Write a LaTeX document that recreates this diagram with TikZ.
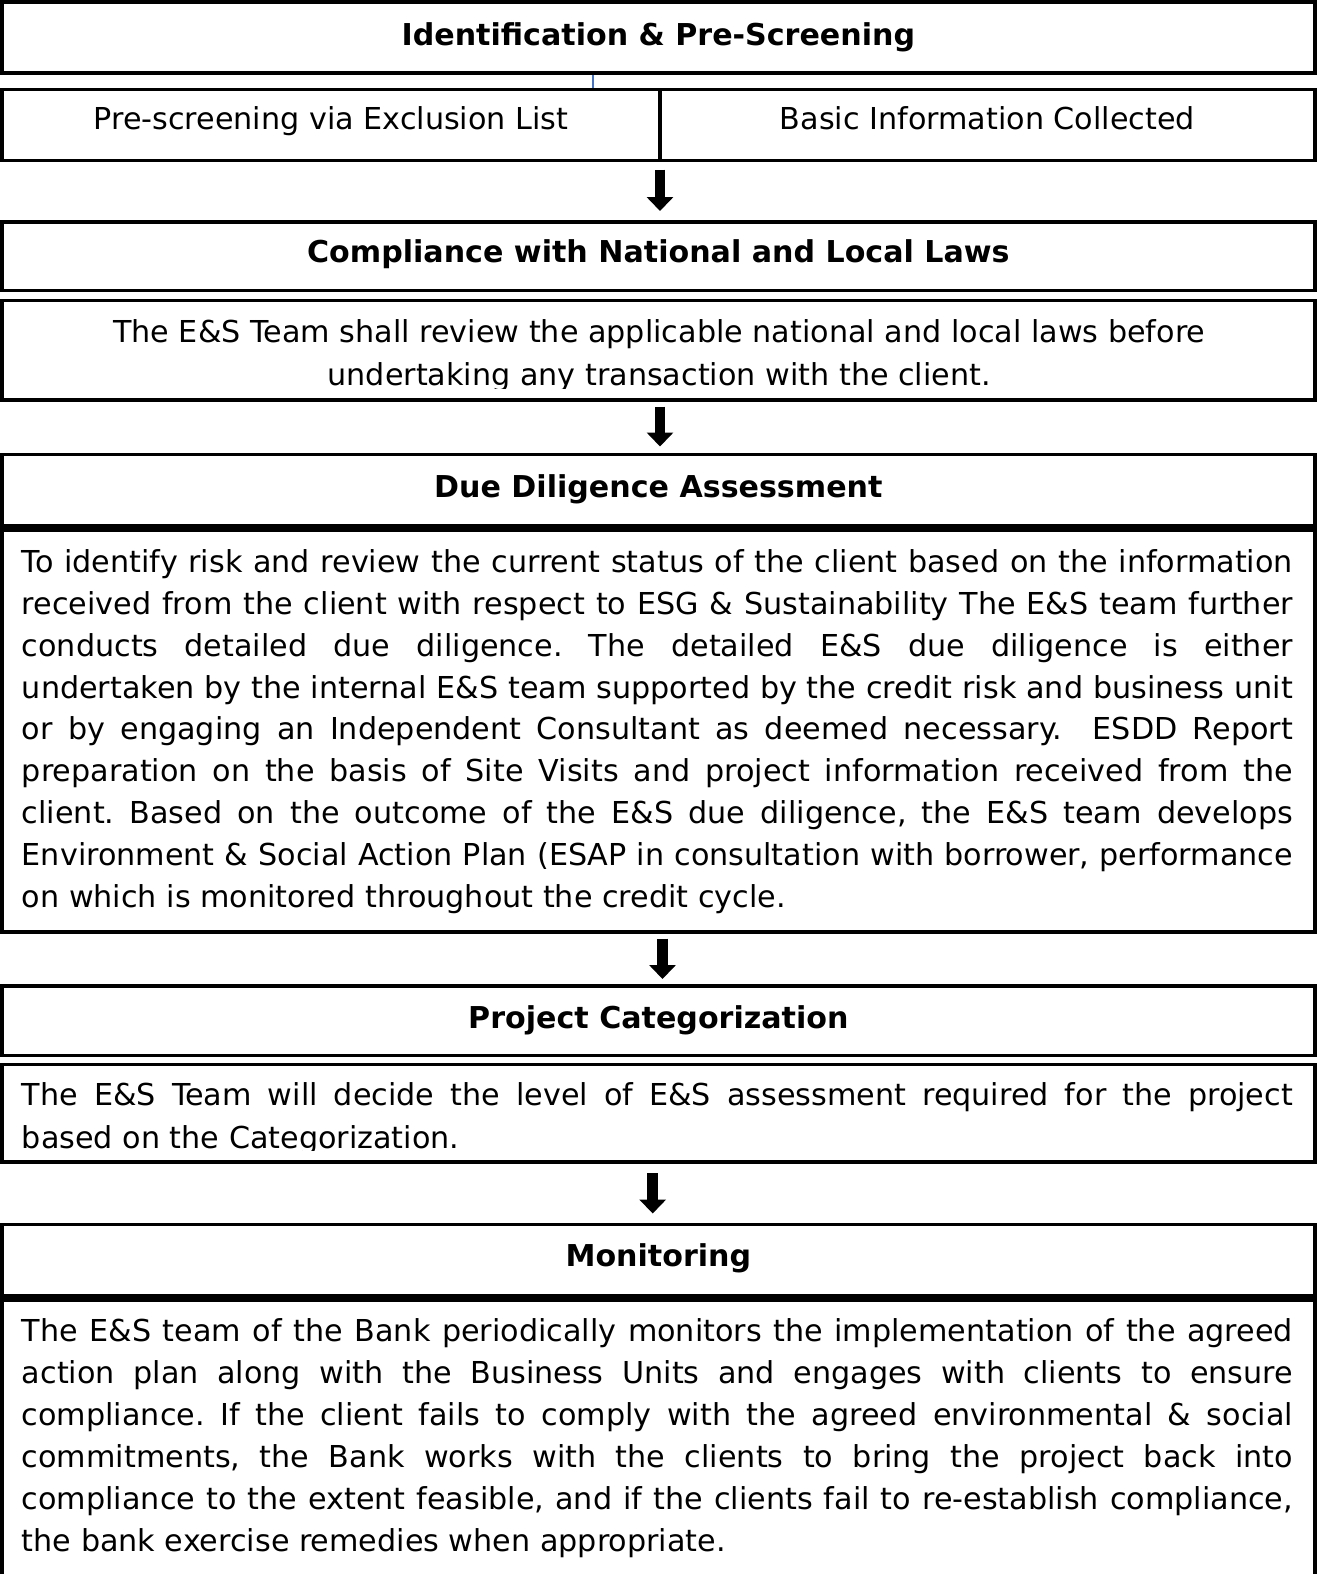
\documentclass[tikz,border=0pt]{standalone}
\usepackage{fontspec}
\setmainfont{DejaVu Sans}
\usetikzlibrary{arrows.meta}
\definecolor{tickblue}{RGB}{68,114,196}
\tikzset{
  boxline/.style={draw=black, line width=3.8pt},
  box/.style={boxline, rectangle, inner sep=0pt, outer sep=0pt, anchor=north west},
  sepline/.style={line width=8pt, shorten <=-1.9pt, shorten >=-1.9pt},
  flowarrow/.style={line width=10.5pt, -{Triangle[width=26pt,length=14pt]}},
  headtext/.style={font=\fontsize{30.1}{36}\selectfont\bfseries, inner sep=0pt, anchor=base},
  plaintext/.style={font=\fontsize{30.2}{41.8}\selectfont, inner sep=0pt},
  bodytext/.style={font=\fontsize{30.2}{41.8}\selectfont\frenchspacing, inner sep=0pt, anchor=base west},
  bluetick/.style={draw=tickblue, line width=1.5pt}
}
\newcommand\jline[1]{\hbox to 1271pt{#1}}
\newcommand\centline[1]{\hbox to 1271pt{\hfil #1\hfil}}
\begin{document}
\begin{tikzpicture}[x=1pt,y=-1pt]
\useasboundingbox (0,0) rectangle (1317,1574);
\fill[white] (0,0) rectangle (1317,1574);

% small blue tick between first two boxes
\coordinate (xbl) at (593,0);
\node[box, minimum width=1312.9pt, minimum height=71pt] (b1) at (1.9,2) {};
\node[box, minimum width=658.1pt, minimum height=71pt] (b2l) at (1.9,89.5) {};
\node[box, minimum width=654.8pt, minimum height=71pt] (b2r) at (660,89.5) {};
\draw[bluetick] ([yshift=-2pt]b1.south -| xbl) -- ([yshift=2pt]b2l.north -| xbl);

\node[headtext] (t1) at (658.35,45.7) {Identification \& Pre-Screening};
\node[plaintext, anchor=base] (t2l) at (331,129.3) {Pre-screening via Exclusion List};
\node[plaintext, anchor=base] (t2r) at (987.4,129.3) {Basic Information Collected};

\coordinate (a1s) at (660,169.5);
\coordinate (a1e) at (660,211);
\draw[flowarrow] (a1s) -- (a1e);

\node[box, minimum width=1312.9pt, minimum height=68.5pt] (b3) at (1.9,222) {};
\node[headtext] (t3) at (658.35,262.3) {Compliance with National and Local Laws};
\node[box, minimum width=1312.9pt, minimum height=99.5pt] (b4) at (1.9,300.5) {};
\begin{scope}
\clip (0,300) rectangle (1317,388);
\node[bodytext] (t4) at (23.5,342) {\vtop{\baselineskip=43.6pt
\centline{The E\&S Team shall review the applicable national and local laws before}
\centline{undertaking any transaction with the client.}}};
\end{scope}

\coordinate (a2s) at (660,406.5);
\coordinate (a2e) at (660,446.5);
\draw[flowarrow] (a2s) -- (a2e);

\node[box, minimum width=1312.9pt, minimum height=73.5pt] (b5h) at (1.9,454.5) {};
\node[box, minimum width=1312.9pt, minimum height=404pt] (b5b) at (1.9,528) {};
\draw[sepline] (b5h.south west) -- (b5h.south east);
\node[headtext] (t5) at (658.35,497.4) {Due Diligence Assessment};
\node[bodytext] (t5b) at (21.7,572.7) {\vtop{\baselineskip=41.8pt
\jline{To identify risk and review the current status of the client based on the information}
\jline{received from the client with respect to ESG \& Sustainability The E\&S team further}
\jline{conducts detailed due diligence. The detailed E\&S due diligence is either}
\jline{undertaken by the internal E\&S team supported by the credit risk and business unit}
\jline{or by engaging an Independent Consultant as deemed necessary.\ \ ESDD Report}
\jline{preparation on the basis of Site Visits and project information received from the}
\jline{client. Based on the outcome of the E\&S due diligence, the E\&S team develops}
\jline{Environment \& Social Action Plan (ESAP in consultation with borrower, performance}
\hbox{on which is monitored throughout the credit cycle.}}};

\coordinate (a3s) at (662.5,938.5);
\coordinate (a3e) at (662.5,979);
\draw[flowarrow] (a3s) -- (a3e);

\node[box, minimum width=1312.9pt, minimum height=69.5pt] (b6) at (1.9,986) {};
\node[headtext] (t6) at (658.35,1028.5) {Project Categorization};
\node[box, minimum width=1312.9pt, minimum height=97.5pt] (b7) at (1.9,1064.5) {};
\begin{scope}
\clip (0,1064) rectangle (1317,1150);
\node[bodytext] (t7) at (21.7,1105) {\vtop{\baselineskip=43.8pt
\jline{The E\&S Team will decide the level of E\&S assessment required for the project}
\hbox{based on the Categorization.}}};
\end{scope}

\coordinate (a4s) at (652.7,1173);
\coordinate (a4e) at (652.7,1213.5);
\draw[flowarrow] (a4s) -- (a4e);

\node[box, minimum width=1312.9pt, minimum height=73pt] (b8h) at (1.9,1224.5) {};
\node[box, minimum width=1312.9pt, minimum height=320pt] (b8b) at (1.9,1297.5) {};
\draw[sepline] (b8h.south west) -- (b8h.south east);
\node[headtext] (t8) at (658.35,1266.3) {Monitoring};
\node[bodytext] (t8b) at (21.7,1341.7) {\vtop{\baselineskip=41.95pt
\jline{The E\&S team of the Bank periodically monitors the implementation of the agreed}
\jline{action plan along with the Business Units and engages with clients to ensure}
\jline{compliance. If the client fails to comply with the agreed environmental \& social}
\jline{commitments, the Bank works with the clients to bring the project back into}
\jline{compliance to the extent feasible, and if the clients fail to re-establish compliance,}
\hbox{the bank exercise remedies when appropriate.}}};
\end{tikzpicture}
\end{document}
